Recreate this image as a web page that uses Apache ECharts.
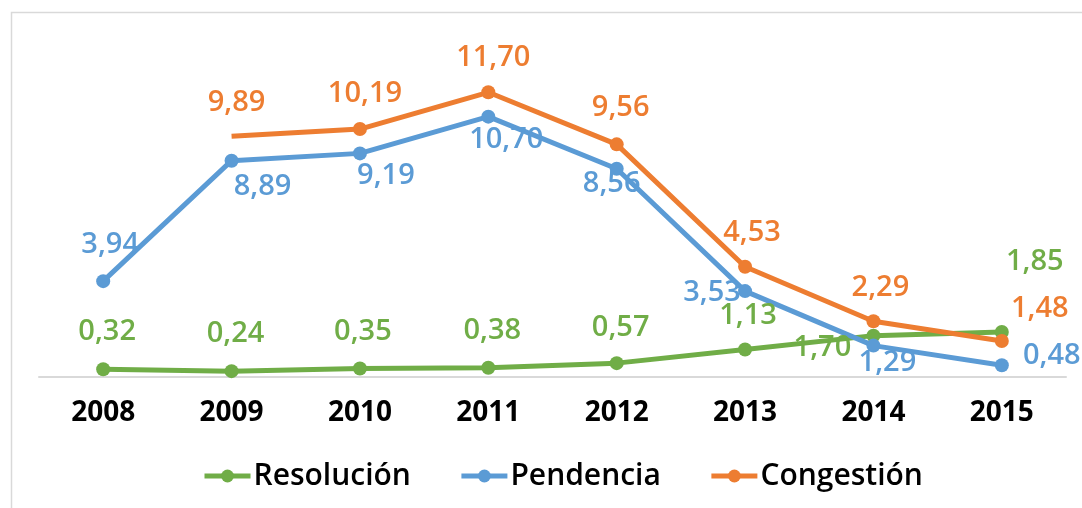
<!DOCTYPE html>
<html style="height: 100%">
<head>
<meta charset="utf-8">
<script src="https://cdn.jsdelivr.net/npm/echarts@6/dist/echarts.min.js"></script>
</head>
<body style="width: 100%; height: 100%; margin: 0; background: #fff;">
<div id="container" style="width: 1082px; height: 508px;"></div>
<script type="text/javascript">
	var years = ['2008', '2009', '2010', '2011', '2012', '2013', '2014', '2015'];
	var resolucion = [0.32, 0.24, 0.35, 0.38, 0.57, 1.13, 1.70, 1.85];
	var pendencia = [3.94, 8.89, 9.19, 10.70, 8.56, 3.53, 1.29, 0.48];
	var congestion = [null, 9.89, 10.19, 11.70, 9.56, 4.53, 2.29, 1.48];

	// label offsets from each point (layout only)
	var resOffsets = [[4, -37], [4, -37], [3, -37], [4, -37], [4, -35], [3, -34], [-51, 12], [33, -70]];
	var penOffsets = [[7, -36], [31, 26], [26, 22], [18, 23], [-5, 15], [-33, 2], [14, 17], [50, -10]];
	var conOffsets = [[0, 0], [5, -34], [5, -35], [5, -35], [4, -37], [7, -34], [7, -34], [38, -32]];

	function fmt(v) {
		return v.toFixed(2).replace('.', ',');
	}

	function build(values, offsets) {
		return values.map(function (v, i) {
			var item = {
				value: v,
				label: { offset: offsets[i] }
			};
			// first point after a gap has no marker in the original
			if (i > 0 && values[i - 1] == null) {
				item.symbolSize = 0;
			}
			return item;
		});
	}

	function makeSeries(name, values, offsets, color) {
		return {
			name: name,
			type: 'line',
			data: build(values, offsets),
			symbol: 'circle',
			symbolSize: 14,
			connectNulls: false,
			lineStyle: { width: 5, color: color },
			itemStyle: { color: color },
			label: {
				show: true,
				position: 'inside',
				color: color,
				fontFamily: 'Open Sans',
				fontWeight: 600,
				fontSize: 29,
				formatter: function (p) { return fmt(p.value); }
			},
			emphasis: { disabled: true },
			animation: false
		};
	}

	var chart = echarts.init(document.getElementById('container'));
	var option = {
		graphic: [{
			type: 'rect',
			left: 9, top: 10,
			shape: { width: 1100, height: 520 },
			style: { fill: 'none', stroke: '#d9d9d9', lineWidth: 1.5 },
			silent: true
		}],
		grid: { left: 39, right: 16, top: 12, bottom: 131 },
		xAxis: {
			type: 'category',
			data: years,
			axisLine: { lineStyle: { color: '#d9d9d9', width: 2 } },
			axisTick: { show: false },
			axisLabel: {
				color: '#000',
				fontWeight: 'bold',
				fontFamily: 'Open Sans',
				fontSize: 28,
				margin: 22
			}
		},
		yAxis: {
			type: 'value',
			min: 0,
			max: 15,
			show: false,
			splitLine: { show: false }
		},
		legend: {
			data: ['Resolución', 'Pendencia', 'Congestión'],
			bottom: 12,
			left: 197,
			itemWidth: 46,
			itemHeight: 16,
			itemGap: 48,
			lineStyle: { width: 5 },
			textStyle: { color: '#000', fontFamily: 'Open Sans', fontWeight: 600, fontSize: 30, padding: [0, 0, 0, -2] }
		},
		series: [
			makeSeries('Resolución', resolucion, resOffsets, '#70AD47'),
			makeSeries('Pendencia', pendencia, penOffsets, '#5B9BD5'),
			makeSeries('Congestión', congestion, conOffsets, '#ED7D31')
		]
	};
	chart.setOption(option);
</script>
</body>
</html>
